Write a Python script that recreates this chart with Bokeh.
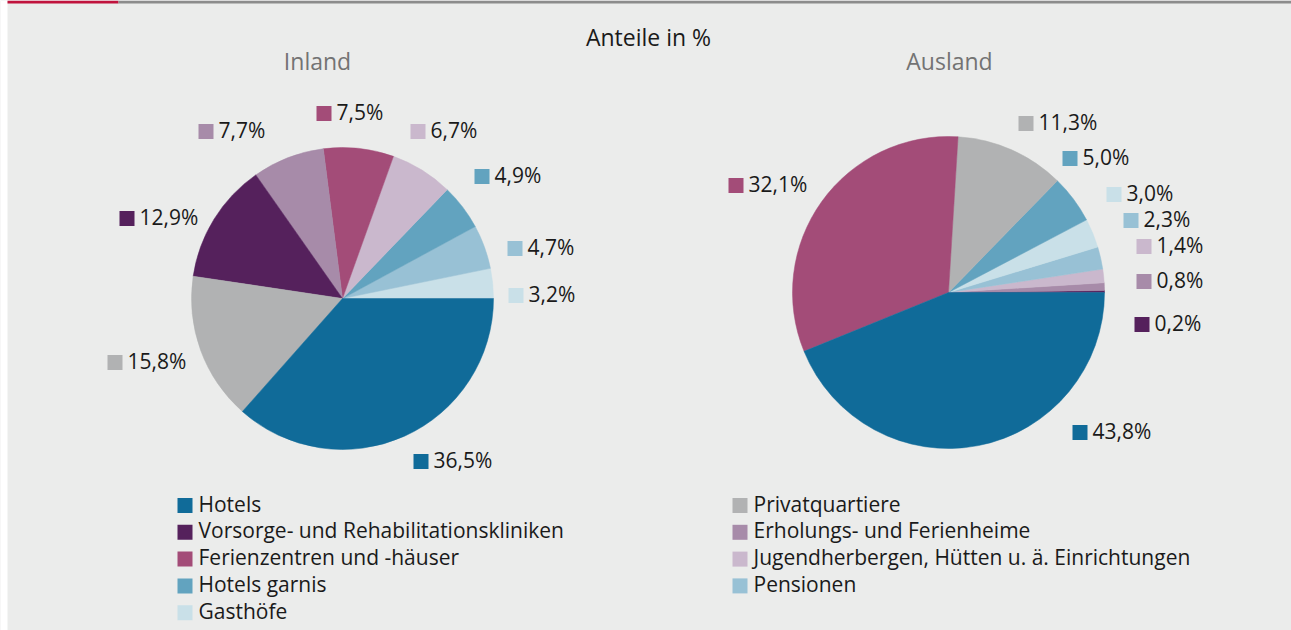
import math
from bokeh.plotting import figure
from bokeh.models import Range1d
from bokeh.core.properties import value
from bokeh.embed import file_html
from bokeh.resources import INLINE

# ---------------- data ----------------
categories = [
    "Hotels",
    "Vorsorge- und Rehabilitationskliniken",
    "Ferienzentren und -häuser",
    "Hotels garnis",
    "Gasthöfe",
    "Privatquartiere",
    "Erholungs- und Ferienheime",
    "Jugendherbergen, Hütten u. ä. Einrichtungen",
    "Pensionen",
]
colors = ["#106b99", "#55215c", "#a34c78", "#62a3bf", "#c9e0e8",
          "#b1b2b3", "#a78ba9", "#cab8cd", "#98c1d5"]
inland_values = [36.5, 12.9, 7.5, 4.9, 3.2, 15.8, 7.7, 6.7, 4.7]
ausland_values = [43.8, 0.2, 32.1, 5.0, 3.0, 11.3, 0.8, 1.4, 2.3]
# slice order, counter-clockwise from 3 o'clock (indices into categories)
inland_order = [4, 8, 3, 7, 2, 6, 1, 5, 0]
ausland_order = [1, 6, 7, 8, 4, 3, 5, 2, 0]
title_text = "Anteile in %"
pie_titles = ["Inland", "Ausland"]

# ---------------- layout ----------------
W, H = 1291, 630
FONT = "Open Sans"
TY = 2  # text vertical nudge (font metrics)
pies = [
    dict(cx=342, cy=298, r=151, values=inland_values, order=inland_order,
         # label offsets (square left, square centre) from pie centre, per category
         lab=[(71, 163), (-223, -80), (-26, -185), (132, -122), (166, -3),
              (-235, 64), (-144, -167), (68, -167), (165, -50)]),
    dict(cx=948, cy=292, r=156, values=ausland_values, order=ausland_order,
         lab=[(124, 140), (186, 32), (-220, -107), (114, -134), (158, -98),
              (70, -169), (188, -11), (188, -46), (175, -72)]),
]
title_pos = [(317, 62), (949, 62)]
SQ = 15

p = figure(width=W, height=H, x_range=Range1d(0, W), y_range=Range1d(-H, 0),
           output_backend="svg", toolbar_location=None, min_border=0,
           background_fill_color="#ebeceb", border_fill_color="#ebeceb",
           outline_line_color=None)
p.axis.visible = False
p.grid.visible = False

# white page strip on the left and top rule
p.quad(left=[0], right=[7], top=[0], bottom=[-H], fill_color="white", line_color=None)
p.quad(left=[7, 118], right=[118, W], top=[0, 0], bottom=[-3, -3],
       fill_color=["#c0133d", "#8c8c8c"], line_color=None)

p.text(x=[648], y=[-38 + TY], text=[title_text], text_font=value(FONT),
       text_font_size=value("23px"), text_color="#1a1a1a",
       text_align="center", text_baseline="middle")
p.text(x=[t[0] for t in title_pos], y=[-t[1] + TY for t in title_pos], text=pie_titles,
       text_font=value(FONT), text_font_size=value("23px"), text_color="#737373",
       text_align="center", text_baseline="middle")

for pie in pies:
    vals = pie["values"]
    total = sum(vals)
    start = 0.0
    starts, ends, cols = [], [], []
    for idx in pie["order"]:
        a0 = start
        a1 = start + vals[idx] / total * 2 * math.pi
        starts.append(a0)
        ends.append(a1)
        cols.append(colors[idx])
        start = a1
    p.wedge(x=pie["cx"], y=-pie["cy"], radius=pie["r"], start_angle=starts,
            end_angle=ends, direction="anticlock", fill_color=cols,
            line_color=cols, line_width=0.5)
    sx = [pie["cx"] + o[0] for o in pie["lab"]]
    sy = [-(pie["cy"] + o[1]) for o in pie["lab"]]
    p.rect(x=[x + SQ / 2 for x in sx], y=sy, width=SQ, height=SQ,
           fill_color=colors, line_color=None)
    labels = [("%.1f" % v).replace(".", ",") + "%" for v in vals]
    p.text(x=[x + SQ + 5 for x in sx], y=[y + TY for y in sy], text=labels,
           text_font=value(FONT), text_font_size=value("21px"), text_color="#1a1a1a",
           text_align="left", text_baseline="middle")

# legend (two columns)
leg_x = [177, 732]
leg_y0, leg_dy = 505, 26.8
lx, ly = [], []
for i, c in enumerate(categories):
    col = 0 if i < 5 else 1
    row = i if i < 5 else i - 5
    lx.append(leg_x[col])
    ly.append(-(leg_y0 + row * leg_dy))
p.rect(x=[x + SQ / 2 for x in lx], y=ly, width=SQ, height=SQ,
       fill_color=colors, line_color=None)
p.text(x=[x + SQ + 6 for x in lx], y=[y + TY for y in ly], text=categories,
       text_font=value(FONT), text_font_size=value("21px"), text_color="#1a1a1a",
       text_align="left", text_baseline="middle")

open("out.html", "w").write(file_html(p, INLINE))
